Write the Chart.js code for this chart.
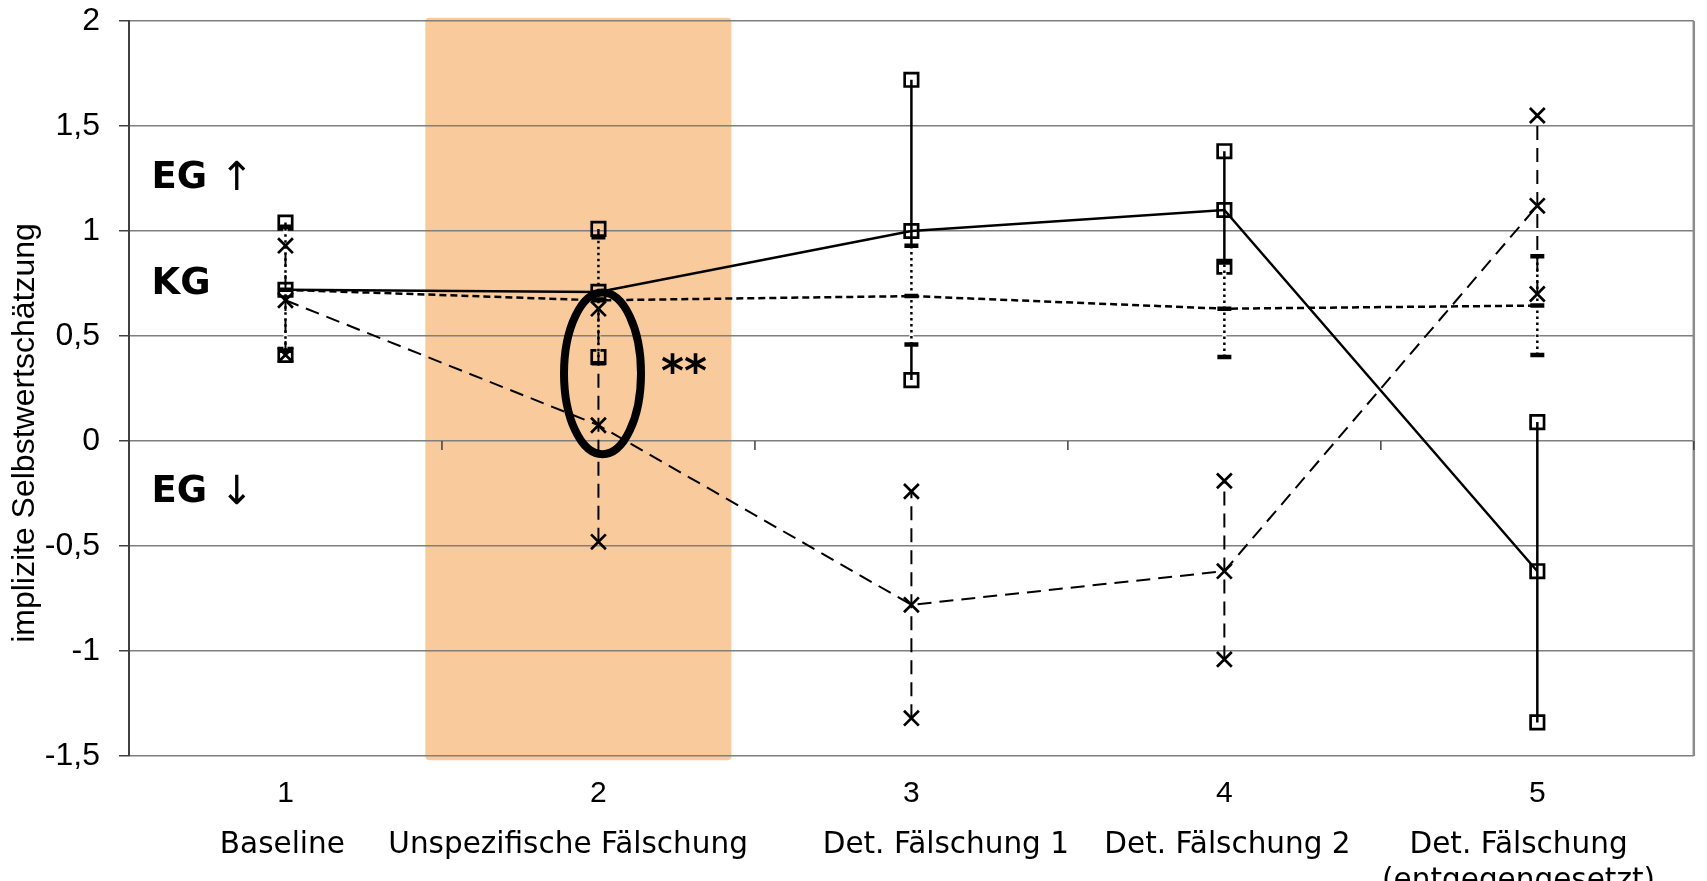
<!DOCTYPE html>
<html>
<head>
<meta charset="utf-8">
<script src="https://cdn.jsdelivr.net/npm/chart.js@4"></script>
<style>
html, body { margin: 0; padding: 0; background: #fff; overflow: hidden; }
#wrap { width: 1707px; height: 881px; position: relative; }
</style>
</head>
<body>
<div id="wrap"><canvas id="myChart"></canvas></div>
<script>
const categories = [1, 2, 3, 4, 5];
const categoryNames = ['Baseline', 'Unspezifische Fälschung', 'Det. Fälschung 1', 'Det. Fälschung 2', ['Det. Fälschung', '(entgegengesetzt)']];
const yTicks = [-1.5, -1, -0.5, 0, 0.5, 1, 1.5, 2];

// EG ↑ : durchgezogen, Quadrate
const egUpMean = [0.72, 0.71, 1.00, 1.10, -0.62];
const egUpHigh = [1.04, 1.01, 1.72, 1.38, 0.09];
const egUpLow = [0.41, 0.40, 0.29, 0.83, -1.34];

// KG : kurz gestrichelt, Fehlerbalken gepunktet
const kgMean = [0.72, 0.67, 0.69, 0.63, 0.645];
const kgHigh = [1.02, 0.97, 0.93, 0.85, 0.88];
const kgLow = [0.43, 0.37, 0.46, 0.40, 0.41];

// EG ↓ : lang gestrichelt, Kreuze
const egDownMean = [0.67, 0.075, -0.78, -0.62, 1.12];
const egDownHigh = [0.93, 0.63, -0.24, -0.19, 1.55];
const egDownLow = [0.41, -0.48, -1.32, -1.04, 0.70];

// Lage der Beschriftungen und Markierungen (in Achsen-Einheiten)
const namePositions = [0.99, 1.903, 3.11, 4.01, 4.94];
const bandColor = '#f9cb9c';
const band = { xMin: 1.447, xMax: 2.425, yMin: -1.52, yMax: 2.016 };
const ellipse = { x: 2.013, y: 0.322, rx: 0.123, ry: 0.385 };
const labels = [
    { text: 'EG', arrow: '↑', x: 0.572, y: 1.207 },
    { text: 'KG', arrow: '', x: 0.572, y: 0.702 },
    { text: 'EG', arrow: '↓', x: 0.572, y: -0.29 }
];
const stars = { text: '**', x: 2.2, y: 0.26 };

function meanPoints(values) {
    return categories.map((c, i) => ({ x: c, y: values[i] }));
}

// Fehlerbalken: je Kategorie low -> high, dann Lücke
function barPoints(low, high) {
    const pts = [];
    categories.forEach((c, i) => {
        pts.push({ x: c, y: low[i] }, { x: c, y: high[i] }, { x: c, y: null });
    });
    return pts;
}

function inBand(v) {
    return v >= band.xMin && v <= band.xMax;
}

const decorations = {
    id: 'decorations',
    beforeDraw(chart) {
        const { ctx, scales: { x, y } } = chart;
        const left = x.getPixelForValue(band.xMin);
        const right = x.getPixelForValue(band.xMax);
        const top = y.getPixelForValue(band.yMax);
        const bottom = y.getPixelForValue(band.yMin);
        ctx.save();
        ctx.fillStyle = bandColor;
        ctx.beginPath();
        ctx.roundRect(left, top, right - left, bottom - top, 4);
        ctx.fill();
        ctx.restore();
    },
    beforeDatasetsDraw(chart) {
        const { ctx, chartArea, scales: { x, y } } = chart;
        ctx.save();
        // rechter Rahmen
        ctx.strokeStyle = '#8c8c8c';
        ctx.lineWidth = 2.5;
        ctx.beginPath();
        ctx.moveTo(chartArea.right, chartArea.top);
        ctx.lineTo(chartArea.right, chartArea.bottom);
        ctx.stroke();
        // Teilstriche auf der Nulllinie
        const y0 = y.getPixelForValue(0);
        ctx.strokeStyle = '#404040';
        ctx.lineWidth = 1.5;
        categories.forEach(c => {
            const px = x.getPixelForValue(c + 0.5);
            ctx.beginPath();
            ctx.moveTo(px, y0);
            ctx.lineTo(px, y0 + 9);
            ctx.stroke();
        });
        ctx.restore();
    },
    afterDatasetsDraw(chart) {
        const { ctx, scales: { x, y } } = chart;
        ctx.save();
        // Ellipse um Messpunkt 2
        const cx = x.getPixelForValue(ellipse.x);
        const cy = y.getPixelForValue(ellipse.y);
        const rx = Math.abs(x.getPixelForValue(ellipse.x + ellipse.rx) - cx);
        const ry = Math.abs(y.getPixelForValue(ellipse.y + ellipse.ry) - cy);
        ctx.strokeStyle = '#000';
        ctx.lineWidth = 8;
        ctx.beginPath();
        ctx.ellipse(cx, cy, rx, ry, 0, 0, Math.PI * 2);
        ctx.stroke();

        ctx.fillStyle = '#000';
        ctx.textAlign = 'left';
        ctx.textBaseline = 'alphabetic';
        labels.forEach(l => {
            const px = x.getPixelForValue(l.x);
            const py = y.getPixelForValue(l.y);
            ctx.font = 'bold 37px "DejaVu Sans"';
            ctx.fillText(l.text, px, py);
            if (l.arrow) {
                const w = ctx.measureText(l.text + ' ').width;
                ctx.font = '40px "DejaVu Sans"';
                ctx.fillText(l.arrow, px + w, py + 2);
            }
        });
        ctx.font = 'bold 44px "DejaVu Sans"';
        ctx.fillText(stars.text, x.getPixelForValue(stars.x), y.getPixelForValue(stars.y));
        ctx.restore();
    },
    afterDraw(chart) {
        const ctx = chart.ctx;
        ctx.save();
        ctx.translate(25, 433);
        ctx.rotate(-Math.PI / 2);
        ctx.fillStyle = '#000';
        ctx.font = '32px "Liberation Sans"';
        ctx.textAlign = 'center';
        ctx.textBaseline = 'middle';
        ctx.fillText('implizite Selbstwertschätzung', 0, 0);
        ctx.restore();
    }
};

function fixX(h) {
    return s => {
        s.height = h;
        s.paddingLeft = 0;
        s.paddingRight = 0;
    };
}

const ctx = document.getElementById('myChart').getContext('2d');

window.chart = new Chart(ctx, {
    type: 'line',
    data: {
        datasets: [
            {
                label: 'EG ↑',
                data: meanPoints(egUpMean),
                borderColor: '#000',
                borderWidth: 2.5,
                pointStyle: 'rect',
                pointRadius: 9.5,
                pointBorderWidth: 2.7,
                pointBorderColor: '#000',
                pointBackgroundColor: 'rgba(0,0,0,0)'
            },
            {
                label: 'KG',
                data: meanPoints(kgMean),
                borderColor: '#000',
                borderWidth: 2.5,
                borderDash: [7, 4],
                pointStyle: 'line',
                pointRadius: 7,
                pointBorderWidth: 4.5,
                pointBorderColor: '#000'
            },
            {
                label: 'EG ↓',
                data: meanPoints(egDownMean),
                borderColor: '#000',
                borderWidth: 2,
                borderDash: [14, 8],
                pointStyle: 'crossRot',
                pointRadius: 10.5,
                pointBorderWidth: 2.7,
                pointBorderColor: '#000'
            },
            {
                label: 'EG ↓ Fehler',
                data: barPoints(egDownLow, egDownHigh),
                borderColor: '#000',
                borderWidth: 2,
                borderDash: [14, 8],
                pointStyle: 'crossRot',
                pointRadius: 10.5,
                pointBorderWidth: 2.7,
                pointBorderColor: '#000'
            },
            {
                label: 'KG Fehler',
                data: barPoints(kgLow, kgHigh),
                borderColor: '#000',
                borderWidth: 2.5,
                borderDash: [2.5, 3.5],
                pointStyle: 'line',
                pointRadius: 7,
                pointBorderWidth: 4.5,
                pointBorderColor: '#000'
            },
            {
                label: 'KG Fehler Hintergrund',
                data: barPoints(kgLow, kgHigh),
                borderWidth: 4,
                segment: {
                    borderColor: c => inBand(c.p0.parsed.x) ? bandColor : '#fff'
                },
                pointRadius: 0
            },
            {
                label: 'EG ↑ Fehler',
                data: barPoints(egUpLow, egUpHigh),
                borderColor: '#000',
                borderWidth: 2.5,
                pointStyle: 'rect',
                pointRadius: 9.5,
                pointBorderWidth: 2.7,
                pointBorderColor: '#000',
                pointBackgroundColor: 'rgba(0,0,0,0)'
            }
        ]
    },
    options: {
        responsive: true,
        maintainAspectRatio: false,
        animation: false,
        events: [],
        spanGaps: false,
        elements: { line: { tension: 0 } },
        layout: { padding: { top: 21, right: 1, left: 0, bottom: 0 } },
        plugins: {
            legend: { display: false },
            tooltip: { enabled: false }
        },
        scales: {
            x: {
                type: 'linear',
                axis: 'x',
                position: 'bottom',
                weight: 0,
                min: 0.5,
                max: 5.5,
                afterBuildTicks: s => { s.ticks = categories.map(v => ({ value: v })); },
                afterFit: fixX(62),
                grid: { display: false, drawTicks: false },
                border: { display: false },
                ticks: {
                    padding: 20,
                    maxRotation: 0,
                    autoSkip: false,
                    color: '#000',
                    font: { family: 'Liberation Sans', size: 30 },
                    callback: v => String(v)
                }
            },
            x2: {
                type: 'linear',
                axis: 'x',
                position: 'bottom',
                weight: 1,
                min: 0.5,
                max: 5.5,
                afterBuildTicks: s => { s.ticks = namePositions.map(v => ({ value: v })); },
                afterFit: fixX(63),
                grid: { display: false, drawTicks: false },
                border: { display: false },
                ticks: {
                    padding: 10,
                    maxRotation: 0,
                    autoSkip: false,
                    color: '#000',
                    font: { family: 'DejaVu Sans', size: 29.5 },
                    callback: (v, i) => categoryNames[i]
                }
            },
            y: {
                min: -1.5,
                max: 2,
                afterBuildTicks: s => { s.ticks = yTicks.map(v => ({ value: v })); },
                afterFit: s => {
                    s.width = 129;
                    s.paddingTop = 0;
                    s.paddingBottom = 0;
                },
                grid: { color: '#7f7f7f', lineWidth: 1.5, tickLength: 10, tickColor: '#404040', tickWidth: 1.5 },
                border: { color: '#404040', width: 2 },
                ticks: {
                    padding: 19,
                    color: '#000',
                    font: { family: 'Liberation Sans', size: 32 },
                    callback: v => String(v).replace('.', ',')
                }
            }
        }
    },
    plugins: [decorations]
});
</script>
</body>
</html>
